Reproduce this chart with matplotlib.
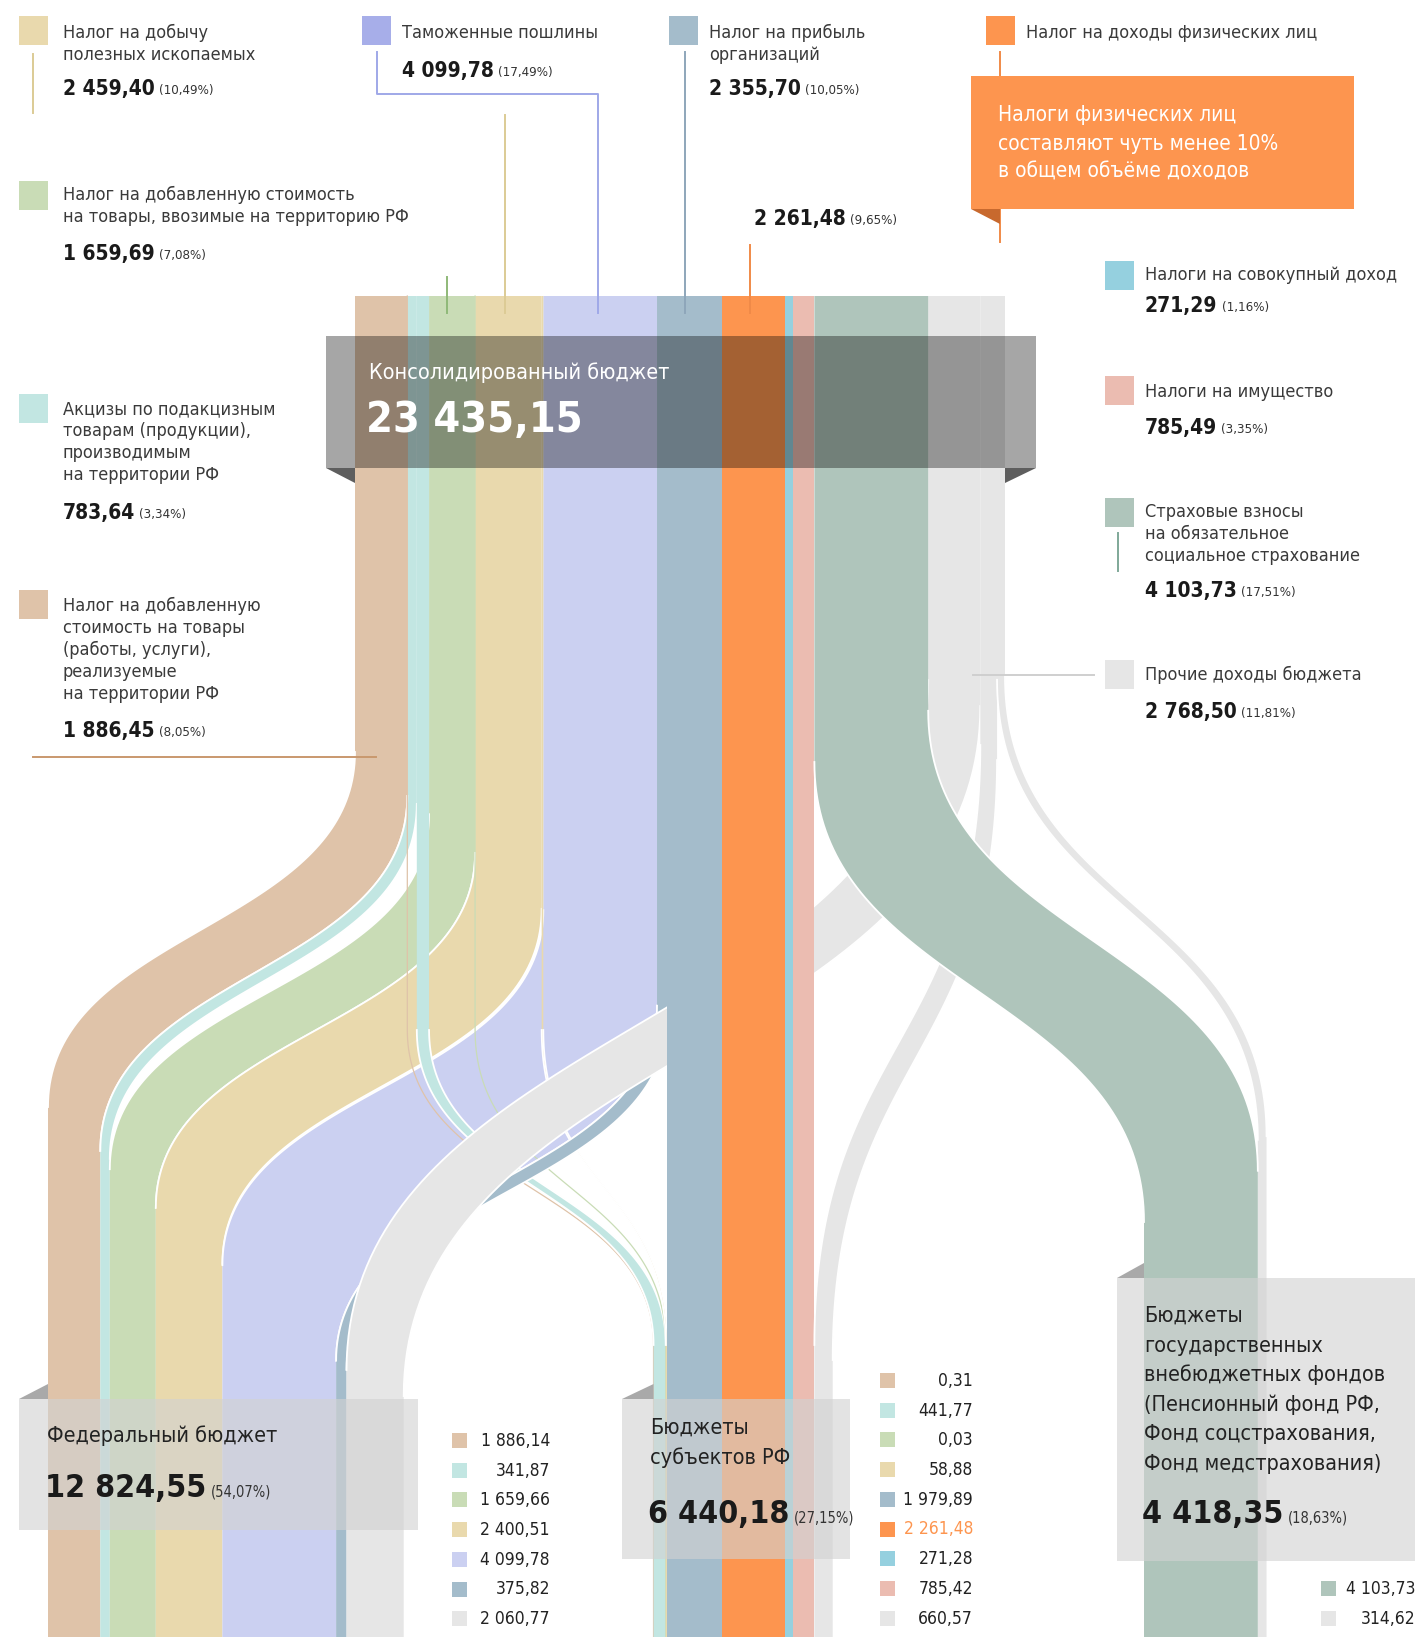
import numpy as np
import matplotlib
matplotlib.use("Agg")
import matplotlib.pyplot as plt
from matplotlib import font_manager

# --- revenue sources, bn rub ---
src_names = ["Налог на добавленную\nстоимость на товары\n(работы, услуги),\nреализуемые\nна территории РФ",
             "Акцизы по подакцизным\nтоварам (продукции),\nпроизводимым\nна территории РФ",
             "Налог на добавленную стоимость\nна товары, ввозимые на территорию РФ",
             "Налог на добычу\nполезных ископаемых",
             "Таможенные пошлины",
             "Налог на прибыль\nорганизаций",
             "Налог на доходы физических лиц",
             "Налоги на совокупный доход",
             "Налоги на имущество",
             "Страховые взносы\nна обязательное\nсоциальное страхование",
             "Прочие доходы бюджета"]
src_values = [1886.45, 783.64, 1659.69, 2459.40, 4099.78, 2355.70, 2261.48, 271.29, 785.49, 4103.73, 2768.50]
src_colors = ["#dfc3a9", "#c2e6e2", "#c9dcb6", "#e9d9ad", "#cbd0f1", "#a4bccb",
              "#fd954f", "#95d0df", "#ebbcb1", "#afc5bb", "#e6e6e6"]
swatch_colors = ["#dfc3a9", "#c2e6e2", "#c9dcb6", "#e9d9ad", "#a7aee9", "#a4bccb",
                 "#fd954f", "#95d0df", "#ebbcb1", "#afc5bb", "#e6e6e6"]
total = 23435.15

# --- where each source goes ---
fed_values = [1886.14, 341.87, 1659.66, 2400.51, 4099.78, 375.82, 0, 0, 0, 0, 2060.77]
reg_values = [0.31, 441.77, 0.03, 58.88, 0, 1979.89, 2261.48, 271.28, 785.42, 0, 660.57]
fund_values = [0, 0, 0, 0, 0, 0, 0, 0, 0, 4103.73, 314.62]

dest_names = ["Федеральный бюджет", "Бюджеты\nсубъектов РФ",
              "Бюджеты\nгосударственных\nвнебюджетных фондов\n(Пенсионный фонд РФ,\nФонд соцстрахования,\nФонд медстрахования)"]
dest_totals = [12824.55, 6440.18, 4418.35]
dest_pct = ["54,07", "27,15", "18,63"]

note = "Налоги физических лиц\nсоставляют чуть менее 10%\nв общем объёме доходов"

avail = {f.name for f in font_manager.fontManager.ttflist}
NARROW = "Liberation Sans Narrow" if "Liberation Sans Narrow" in avail else "DejaVu Sans"
FK = dict(family=NARROW, fontstretch="condensed")


def fmt(v):
    return f"{v:,.2f}".replace(",", " ").replace(".", ",")


W, H = 1418, 1637
fig = plt.figure(figsize=(W / 100, H / 100), dpi=100)
ax = fig.add_axes([0, 0, 1, 1])
ax.set_xlim(0, W)
ax.set_ylim(H, 0)
ax.axis("off")

# column geometry
x0_top = 355
y_top = 296
y_bot = H
s = 650 / total          # px per bn

src_w = np.array(src_values) * s
src_x = x0_top + np.concatenate([[0], np.cumsum(src_w)[:-1]])

parts = np.array([fed_values, reg_values, fund_values])
part_sum = parts.sum(axis=0)
# top position of every flow inside its source column
top_l = np.zeros_like(parts)
top_r = np.zeros_like(parts)
for j in range(len(src_values)):
    x = src_x[j]
    for d in range(3):
        w = src_w[j] * parts[d, j] / part_sum[j]
        top_l[d, j], top_r[d, j] = x, x + w
        x += w

# bottom positions inside each destination stack
bot_start = [48, 0, 1144]
bot_start[1] = top_l[1, 5] - parts[1, :4].sum() * s
bot_l = np.zeros_like(parts)
bot_r = np.zeros_like(parts)
for d in range(3):
    x = bot_start[d]
    for j in range(len(src_values)):
        w = parts[d, j] * s
        bot_l[d, j], bot_r[d, j] = x, x + w
        x += w

t = np.linspace(0, 1, 90)


def edge(xt, xb, ys, ye):
    h = (ye - ys) * 0.5
    bx = (1 - t) ** 3 * xt + 3 * (1 - t) ** 2 * t * xt + 3 * (1 - t) * t ** 2 * xb + t ** 3 * xb
    by = (1 - t) ** 3 * ys + 3 * (1 - t) ** 2 * t * (ys + h) + 3 * (1 - t) * t ** 2 * (ye - h) + t ** 3 * ye
    return bx, by


def timing(d, j, xt):
    # where the edge of a flow leaves its column and where it lands
    if d == 0 and j == 10:
        ys = 680 + 0.5 * (xt - top_l[0, 10])
        return ys, ys + 690
    if d == 0:
        ys = 752 + 0.84 * (xt - x0_top)
        return ys, ys + 355
    if d == 1 and j < 5:
        return 1030, 1345
    if d == 1:
        ys = 745 + 0.9 * (xt - top_l[1, 10])
        return ys, ys + 600
    ys = 762 - 0.45 * (xt - top_l[2, 9])
    return ys, ys + 460


def flow(d, j, z):
    xtl, xtr = top_l[d, j], top_r[d, j]
    xbl, xbr = bot_l[d, j], bot_r[d, j]
    ys0, ye0 = timing(d, j, xtl)
    ys1, ye1 = timing(d, j, xtr)
    lx, ly = edge(xtl, xbl, ys0, ye0)
    rx, ry = edge(xtr, xbr, ys1, ye1)
    c = src_colors[j]
    if xtr - xtl < 1.5:
        ax.plot(np.r_[xtl, lx, xbl], np.r_[y_top, ly, y_bot], color=c, lw=0.9, zorder=z)
        return
    xs = np.r_[xtl, lx, xbl, xbr, rx[::-1], xtr]
    yy = np.r_[y_top, ly, y_bot, y_bot, ry[::-1], y_top]
    ax.fill(xs, yy, color=c, lw=0, zorder=z)
    if abs(xtl - xbl) > 1:
        ax.plot(lx, ly, color="white", lw=1.3, zorder=z + 0.01)
        ax.plot(rx, ry, color="white", lw=1.3, zorder=z + 0.01)


# federal flows, then the thin regional ones from the left side
for j in [0, 1, 2, 3, 4]:
    flow(0, j, 2 + j * 0.01)
for j in [1, 0, 2, 3]:
    flow(1, j, 3 + j * 0.01)
flow(0, 5, 3.5)
flow(0, 10, 3.6)
for j in [5, 6, 7, 8]:
    flow(1, j, 4)
flow(1, 10, 4.5)
flow(2, 10, 4.6)
flow(2, 9, 4.7)

# consolidated budget box
ax.add_patch(plt.Rectangle((326, 336), 710, 132, color="black", alpha=0.35, lw=0, zorder=6))
ax.fill([326, x0_top, x0_top], [468, 468, 483], color="#5e5e5e", lw=0, zorder=6)
ax.fill([1036, 1005, 1005], [468, 468, 483], color="#5e5e5e", lw=0, zorder=6)
ax.text(369, 373, "Консолидированный бюджет", color="white", fontsize=15.5, va="center", zorder=7, **FK)
ax.text(366, 420, fmt(total), color="white", fontsize=31, fontweight="bold", va="center", zorder=7, **FK)

# source labels
lab = {
    0: ((19, 590), 606, 731), 1: ((19, 394), 409, 513), 2: ((19, 181), 195, 254),
    3: ((19, 16), 33, 89), 4: ((362, 16), 33, 71), 5: ((669, 16), 33, 89),
    6: ((986, 16), 33, None), 7: ((1105, 261), 275, 306), 8: ((1105, 376), 392, 428),
    9: ((1105, 498), 512, 591), 10: ((1105, 660), 675, 712),
}


def value_text(x, y, v, size=15, color="#1a1a1a", pct=None, psize=9.5, z=8):
    tv = ax.text(x, y, fmt(v), fontsize=size, fontweight="bold", color=color, va="center", zorder=z, **FK)
    if pct is not None:
        ax.annotate("(" + pct + "%)", xy=(1, 0.12), xycoords=tv, xytext=(3, 0), textcoords="offset points",
                    fontsize=psize, color="#333333", va="bottom", zorder=z, **FK)
    return tv


for j, ((sx, sy), ly, vy) in lab.items():
    ax.add_patch(plt.Rectangle((sx, sy), 29, 29, color=swatch_colors[j], lw=0, zorder=8))
    tx = sx + 44 if sx < 100 else sx + 40
    for k, line in enumerate(src_names[j].split("\n")):
        ax.text(tx, ly + k * 22, line, fontsize=13, color="#3a3a3a", va="center", zorder=8, **FK)
    pct = f"{src_values[j] / total * 100:.2f}".replace(".", ",")
    if vy is not None:
        value_text(tx, vy, src_values[j], pct=pct)
    else:
        value_text(754, 219, src_values[j], pct=pct)

# leader lines
ax.plot([33, 33], [54, 113], color="#dccb95", lw=1.4, zorder=8)
ax.plot([505, 505], [115, 313], color="#dccb95", lw=1.4, zorder=8)
ax.plot([447, 447], [277, 313], color="#8fb978", lw=1.4, zorder=8)
ax.plot([377, 377, 598, 598], [52, 94, 94, 313], color="#9fa8e8", lw=1.4, zorder=8)
ax.plot([685, 685], [52, 313], color="#8ea6ba", lw=1.4, zorder=8)
ax.plot([1000, 1000], [52, 242], color="#f08a48", lw=1.4, zorder=8)
ax.plot([750, 750], [245, 313], color="#f08a48", lw=1.4, zorder=8)
ax.plot([33, 376], [757, 757], color="#c9986e", lw=1.4, zorder=8)
ax.plot([1118, 1118], [533, 571], color="#7fa898", lw=1.4, zorder=8)
ax.plot([973, 1094], [675, 675], color="#cfcfcf", lw=1.4, zorder=8)

# callout about personal income tax
ax.add_patch(plt.Rectangle((971, 76), 383, 133, color="#fd954f", lw=0, zorder=9))
ax.fill([971, 1000, 1000], [209, 209, 224], color="#c8692e", lw=0, zorder=9)
for k, line in enumerate(note.split("\n")):
    ax.text(998, 115 + k * 28.5, line, color="white", fontsize=15, va="center", zorder=10, **FK)

# destination boxes
boxes = [(19, 1399, 399, 131), (622, 1399, 228, 160), (1117, 1278, 298, 283)]
for d, (bx, by, bw, bh) in enumerate(boxes):
    ax.add_patch(plt.Rectangle((bx, by), bw, bh, color="#d2d2d2", alpha=0.62, lw=0, zorder=11))
    ax.fill([bx, bot_start[d], bot_start[d]], [by, by - 15, by], color="#a9a9a9", lw=0, zorder=11)

ax.text(47, 1436, dest_names[0], fontsize=15.5, color="#222222", va="center", zorder=12, **FK)
value_text(45, 1488, dest_totals[0], size=23, pct=dest_pct[0], psize=10.5, z=12)
for k, line in enumerate(dest_names[1].split("\n")):
    ax.text(650, 1428 + k * 30, line, fontsize=15.5, color="#222222", va="center", zorder=12, **FK)
value_text(648, 1514, dest_totals[1], size=23, pct=dest_pct[1], psize=10.5, z=12)
for k, line in enumerate(dest_names[2].split("\n")):
    ax.text(1144, 1316 + k * 29.5, line, fontsize=15.5, color="#222222", va="center", zorder=12, **FK)
value_text(1142, 1514, dest_totals[2], size=23, pct=dest_pct[2], psize=10.5, z=12)

# per-destination legends
legend_pos = [(452, 550, 1441), (880, 973, 1381), (1321, 1415, 1589)]
for d, (lx, rx, ly) in enumerate(legend_pos):
    k = 0
    for j in range(len(src_values)):
        if parts[d, j] == 0:
            continue
        y = ly + k * 29.7
        ax.add_patch(plt.Rectangle((lx, y - 8), 15, 15, color=src_colors[j], lw=0, zorder=12))
        col = "#fd954f" if j == 6 else "#222222"
        ax.text(rx, y, fmt(parts[d, j]), fontsize=12.5, color=col, ha="right", va="center", zorder=12, **FK)
        k += 1

fig.savefig("out.png", dpi=100, facecolor="white")
